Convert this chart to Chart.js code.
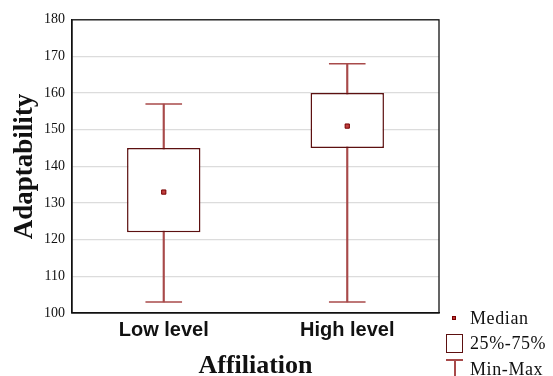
<!DOCTYPE html>
<html lang="en">
<head>
  <meta charset="UTF-8">
  <title>Adaptability by Affiliation</title>
  <script src="https://cdn.jsdelivr.net/npm/chart.js"></script>
  <style>
    body { margin: 0; background: #fff; }
    #wrap { position: relative; width: 553px; height: 376px; }
    .key { position: absolute; left: 470px; font: 18px "Liberation Serif", "Times New Roman", serif; letter-spacing: 0.6px; color: #111; line-height: 1; }
    .icon { position: absolute; box-sizing: border-box; }
  </style>
</head>
<body>
  <div id="wrap">
    <canvas id="boxChart" width="553" height="376"></canvas>

    <!-- legend -->
    <div class="icon" style="left:452px;top:316px;width:4px;height:4px;background:#b33;border:1px solid #700;"></div>
    <div class="key" style="top:309px;">Median</div>
    <div class="icon" style="left:446px;top:334px;width:17px;height:19px;border:1px solid #5c1010;"></div>
    <div class="key" style="top:334px;">25%-75%</div>
    <div class="icon" style="left:446px;top:359px;width:17px;height:1.5px;background:#a84a4a;"></div>
    <div class="icon" style="left:454px;top:359px;width:1.5px;height:17px;background:#a84a4a;"></div>
    <div class="key" style="top:360px;">Min-Max</div>
  </div>

  <script>
    // values
    const groups = ['Low level', 'High level'];
    const minVals = [103, 103];
    const maxVals = [157, 168];
    const q1Vals = [122, 145];
    const q3Vals = [145, 160];
    const medians = [133, 151];
    const yTicks = [100, 110, 120, 130, 140, 150, 160, 170, 180];

    const whiskerColor = '#a84a4a';
    const boxColor = '#5c1010';

    // outline the whole plot area like the original frame
    const frame = {
      id: 'frame',
      afterDraw(chart) {
        const { ctx, chartArea: a } = chart;
        ctx.save();
        ctx.strokeStyle = '#111';
        ctx.lineWidth = 1.3;
        ctx.strokeRect(a.left, a.top, a.right - a.left, a.bottom - a.top);
        ctx.restore();
      }
    };

    const ctx = document.getElementById('boxChart').getContext('2d');
    new Chart(ctx, {
      type: 'bar',
      data: {
        labels: groups,
        datasets: [
          {
            // min-max whisker line
            type: 'bar',
            data: groups.map((g, i) => [minVals[i], maxVals[i]]),
            backgroundColor: whiskerColor,
            barThickness: 1.5,
            grouped: false,
            order: 4
          },
          {
            // 25%-75% box
            type: 'bar',
            data: groups.map((g, i) => [q1Vals[i], q3Vals[i]]),
            backgroundColor: '#fff',
            borderColor: boxColor,
            borderWidth: 1.5,
            borderSkipped: false,
            barPercentage: 0.4,
            categoryPercentage: 1,
            grouped: false,
            order: 3
          },
          {
            // whisker caps
            type: 'line',
            data: groups.map((g, i) => ({ x: g, y: maxVals[i] }))
              .concat(groups.map((g, i) => ({ x: g, y: minVals[i] }))),
            showLine: false,
            pointStyle: 'line',
            pointRadius: 18.3,
            pointBorderColor: whiskerColor,
            pointBorderWidth: 1.5,
            order: 2
          },
          {
            // median marker
            type: 'line',
            data: medians,
            showLine: false,
            pointStyle: 'rect',
            pointRadius: 3,
            pointBackgroundColor: '#c04040',
            pointBorderColor: '#700',
            pointBorderWidth: 1,
            order: 1
          }
        ]
      },
      options: {
        responsive: false,
        animation: false,
        events: [],
        layout: { padding: { top: 19, right: 114, bottom: 0, left: 0 } },
        plugins: { legend: { display: false }, tooltip: { enabled: false } },
        scales: {
          x: {
            offset: true,
            grid: { display: false, drawTicks: false },
            border: { color: '#111', width: 1.3 },
            ticks: {
              color: '#111',
              padding: 5,
              font: { family: '"Liberation Sans", Arial, sans-serif', size: 20, weight: 'bold' }
            },
            title: {
              display: true,
              text: 'Affiliation',
              color: '#111',
              padding: { top: 0, bottom: 0 },
              font: { family: '"Liberation Serif", "Times New Roman", serif', size: 26, weight: 'bold', lineHeight: 0.75 }
            },
            afterFit(scale) { scale.height = 63; }
          },
          y: {
            min: 100,
            max: 180,
            afterBuildTicks(scale) { scale.ticks = yTicks.map(v => ({ value: v })); },
            grid: { color: '#dcdcdc', lineWidth: 1.3, drawTicks: false },
            border: { color: '#111', width: 1.3 },
            ticks: {
              color: '#111',
              padding: 7,
              font: { family: '"Liberation Serif", "Times New Roman", serif', size: 14 }
            },
            title: {
              display: true,
              text: 'Adaptability',
              color: '#111',
              padding: { top: 9, bottom: 0 },
              font: { family: '"Liberation Serif", "Times New Roman", serif', size: 27, weight: 'bold', lineHeight: 1.2 }
            },
            afterFit(scale) { scale.width = 72; }
          }
        }
      },
      plugins: [frame]
    });
  </script>
</body>
</html>
